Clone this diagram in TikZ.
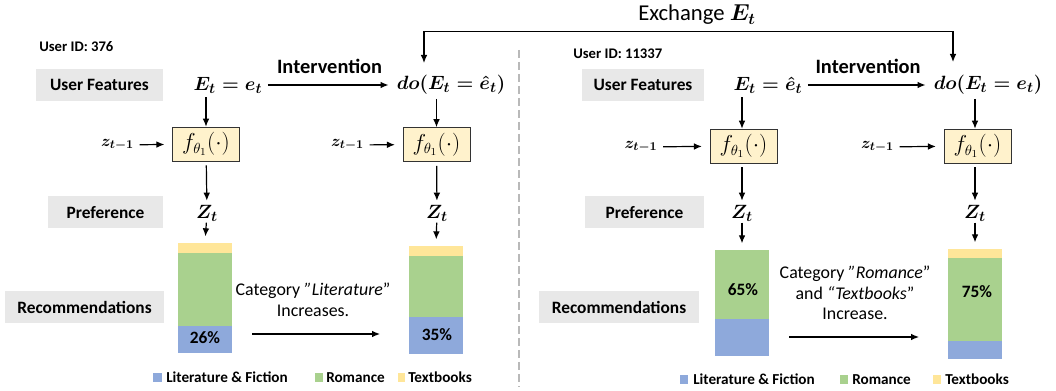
\documentclass[tikz,border=0pt]{standalone}
\usepackage[no-math]{fontspec}
\setmainfont{Carlito}
\usetikzlibrary{arrows.meta}
\definecolor{litblue}{HTML}{8EA9DB}
\definecolor{romgreen}{HTML}{A9D18E}
\definecolor{txtyellow}{HTML}{FFE699}
\definecolor{tagbg}{HTML}{E8E8E8}
\definecolor{funcfill}{HTML}{FFF2CC}
\tikzset{
  >={Latex[length=6pt,width=5pt]},
  arr/.style={->, line width=0.9pt},
  tag/.style={fill=tagbg, minimum height=24pt, inner sep=0pt, font=\fontsize{13}{15}\selectfont\bfseries},
  uid/.style={anchor=west, inner sep=0pt, font=\fontsize{11}{13}\selectfont\bfseries},
  var/.style={inner sep=1pt, font=\fontsize{15}{18}\selectfont\boldmath},
  zprev/.style={inner sep=1pt, font=\fontsize{13}{15}\selectfont\boldmath},
  func/.style={draw=black!80, fill=funcfill, minimum width=50pt, minimum height=25.5pt, inner sep=0pt, font=\fontsize{16}{18}\selectfont},
  pct/.style={font=\fontsize{13}{15}\selectfont\bfseries},
  note/.style={align=center, font=\fontsize{13.4}{15.5}\selectfont},
  legtext/.style={anchor=west, inner sep=0pt, font=\fontsize{11.4}{13}\selectfont\bfseries},
  act/.style={inner sep=0pt, font=\fontsize{15.3}{17}\selectfont\bfseries},
  big/.style={font=\fontsize{17}{20}\selectfont}
}
\begin{document}
\begin{tikzpicture}[x=0.75pt, y=-0.75pt]
  \useasboundingbox (0,0) rectangle (1056,391);
  % left user
  \node[uid] (idA) at (39,47) {User ID: 376};
  \node[tag, minimum width=95pt] (ufA) at (99.5,85) {User Features};
  \node[tag, minimum width=86pt] (prA) at (105.5,212.5) {Preference};
  \node[tag, minimum width=119pt] (rcA) at (84.5,307) {Recommendations};
  \node[var] (eA) at (228,85) {$E_t = e_t$};
  \node[var] (doA) at (451,85) {$do(E_t = \hat{e}_t)$};
  \draw[arr, shorten <=3pt, shorten >=5pt] (eA) -- (doA) node[act, midway, above=8pt] {Intervention};
  \node[func] (fA) at (206,144) {$f_{\theta_1}(\cdot)$};
  \node[func] (fB) at (436.5,144.5) {$f_{\theta_1}(\cdot)$};
  \node[zprev] (zA) at (117.5,145) {$z_{t-1}$};
  \node[zprev] (zB) at (347.5,145) {$z_{t-1}$};
  \node[var] (ZA) at (207,213) {$Z_t$};
  \node[var] (ZB) at (437,213) {$Z_t$};
  \draw[arr, shorten <=2pt] (eA.south -| fA.north) -- (fA.north);
  \draw[arr, shorten <=2pt] (doA.south -| fB.north) -- (fB.north);
  \draw[arr, shorten <=3pt, shorten >=6pt] (zA) -- (fA);
  \draw[arr, shorten <=3pt, shorten >=6pt] (zB) -- (fB);
  \draw[arr, shorten <=3pt, shorten >=2pt] (fA) -- (ZA);
  \draw[arr, shorten <=3pt, shorten >=2pt] (fB) -- (ZB);
  % bars, left user
  \fill[txtyellow] (178,243) rectangle (232,253);
  \fill[romgreen] (178,253) rectangle (232,326);
  \fill[litblue] (178,326) rectangle (232,353);
  \coordinate (barA) at (205,243);
  \fill[txtyellow] (409,246) rectangle (463,256);
  \fill[romgreen] (409,256) rectangle (463,317);
  \fill[litblue] (409,317) rectangle (463,354);
  \coordinate (barB) at (436,246);
  \draw[arr, shorten >=5pt] (ZA) -- (barA);
  \draw[arr, shorten >=5pt] (ZB) -- (barB);
  \node[pct] (pA) at (205,338) {26\%};
  \node[pct] (pB) at (437,335) {35\%};
  \node[note] (nA) at (313,300) {Category \textit{"Literature}" \\ Increases.};
  \coordinate (sA) at (252,334);
  \coordinate (tA) at (380,334);
  \draw[arr] (sA) -- (tA);
  % legend, left
  \fill[litblue] (153,373) rectangle (162,382);
  \node[legtext] (lA1) at (166,377.5) {Literature \& Fiction};
  \fill[romgreen] (315,373) rectangle (323,382);
  \node[legtext] (lA2) at (326,377.5) {Romance};
  \fill[txtyellow] (398,373) rectangle (405,382);
  \node[legtext] (lA3) at (408,377.5) {Textbooks};

  \draw[gray!55, line width=1pt, dash pattern=on 6pt off 3pt] (519,50) -- (519,387);

  % right user
  \node[uid] (idB) at (573,54) {User ID: 11337};
  \node[tag, minimum width=92pt] (ufB) at (643,85) {User Features};
  \node[tag, minimum width=89pt] (prB) at (644.5,212.5) {Preference};
  \node[tag, minimum width=120pt] (rcB) at (619,307.5) {Recommendations};
  \node[var] (eB) at (768,85) {$E_t = \hat{e}_t$};
  \node[var] (doB) at (988,85) {$do(E_t = e_t)$};
  \draw[arr, shorten <=3pt, shorten >=5pt] (eB) -- (doB) node[act, midway, above=8pt] {Intervention};
  \node[func] (fC) at (743.5,146) {$f_{\theta_1}(\cdot)$};
  \node[func] (fD) at (977.5,146) {$f_{\theta_1}(\cdot)$};
  \node[zprev] (zC) at (641,147) {$z_{t-1}$};
  \node[zprev] (zD) at (877.5,147) {$z_{t-1}$};
  \node[var] (ZC) at (742,213) {$Z_t$};
  \node[var] (ZD) at (975,213) {$Z_t$};
  \draw[arr, shorten <=2pt] (eB.south -| ZC.north) -- (fC.north -| ZC.north);
  \draw[arr, shorten <=2pt] (doB.south -| ZD.north) -- (fD.north -| ZD.north);
  \draw[arr, shorten <=3pt, shorten >=6pt] (zC) -- (fC);
  \draw[arr, shorten <=3pt, shorten >=6pt] (zD) -- (fD);
  \draw[arr, shorten <=3pt, shorten >=2pt] (fC.south -| ZC) -- (ZC);
  \draw[arr, shorten <=3pt, shorten >=2pt] (fD.south -| ZD) -- (ZD);
  % bars, right user
  \fill[romgreen] (715,250) rectangle (769,319);
  \fill[litblue] (715,319) rectangle (769,356);
  \coordinate (barC) at (742,250);
  \fill[txtyellow] (948,249) rectangle (1002,258);
  \fill[romgreen] (948,258) rectangle (1002,341);
  \fill[litblue] (948,341) rectangle (1002,359);
  \coordinate (barD) at (975,249);
  \draw[arr, shorten >=5pt] (ZC) -- (barC);
  \draw[arr, shorten >=5pt] (ZD) -- (barD);
  \node[pct] (pC) at (743,290) {65\%};
  \node[pct] (pD) at (977,292) {75\%};
  \node[note] (nB) at (855,293) {Category \textit{"Romance}" \\ and \textit{``Textbooks}'' \\ Increase.};
  \coordinate (sB) at (789,337);
  \coordinate (tB) at (919,337);
  \draw[arr] (sB) -- (tB);
  % legend, right
  \fill[litblue] (680,375) rectangle (688,384);
  \node[legtext] (lB1) at (693,379.5) {Literature \& Fiction};
  \fill[romgreen] (840,375) rectangle (848,384);
  \node[legtext] (lB2) at (852,379.5) {Romance};
  \fill[txtyellow] (933,375) rectangle (941,384);
  \node[legtext] (lB3) at (945,379.5) {Textbooks};

  % swap of the user features
  \coordinate (xA) at (424,63);
  \coordinate (xB) at (953,62);
  \coordinate (xTop) at (688,31.5);
  \draw[arr, <->] (xA) |- (xTop) -| (xB);
  \node[big] (xlab) at (697,15) {Exchange {\boldmath$E_t$}};
\end{tikzpicture}
\end{document}
